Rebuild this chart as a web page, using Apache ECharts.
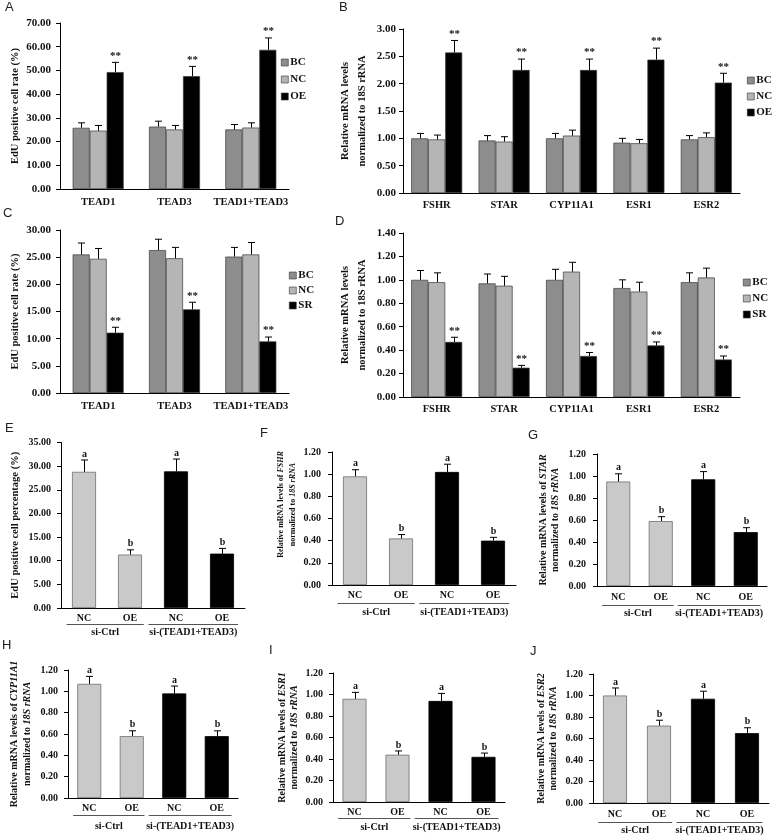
<!DOCTYPE html>
<html><head><meta charset="utf-8">
<script src="https://cdn.jsdelivr.net/npm/echarts@6/dist/echarts.min.js"></script>
<style>html,body{margin:0;padding:0;background:#fff}#c{width:773px;height:837px}</style>
</head><body><div id="c"></div>
<script>
// ---------- data ----------
const teads = ['TEAD1', 'TEAD3', 'TEAD1+TEAD3'];
const genes = ['FSHR', 'STAR', 'CYP11A1', 'ESR1', 'ESR2'];
const groupCats = ['NC', 'OE', 'NC', 'OE'];
const groupNames = ['si-Ctrl', 'si-(TEAD1+TEAD3)'];
const abLetters = ['a', 'b', 'a', 'b'];

// Panel A (EdU, overexpression)
const aBC = [25.8, 26.3, 25.1], aBCerr = [2.1, 2.3, 2.1];
const aNC = [24.6, 25.1, 25.9], aNCerr = [2.2, 1.7, 2.0];
const aOE = [49.3, 47.6, 58.7], aOEerr = [4.1, 4.1, 5.0];
// Panel B (mRNA, overexpression)
const bBC = [1.00, 0.96, 1.00, 0.92, 0.98], bBCerr = [0.09, 0.09, 0.09, 0.08, 0.07];
const bNC = [0.98, 0.94, 1.05, 0.91, 1.02], bNCerr = [0.08, 0.09, 0.10, 0.07, 0.08];
const bOE = [2.57, 2.25, 2.25, 2.44, 2.02], bOEerr = [0.22, 0.20, 0.20, 0.21, 0.17];
// Panel C (EdU, knockdown)
const cBC = [25.5, 26.3, 25.1], cBCerr = [2.1, 2.0, 1.7];
const cNC = [24.7, 24.8, 25.5], cNCerr = [1.9, 2.0, 2.2];
const cSR = [11.1, 15.4, 9.5], cSRerr = [1.0, 1.3, 0.8];
// Panel D (mRNA, knockdown)
const dBC = [1.00, 0.97, 1.00, 0.93, 0.98], dBCerr = [0.08, 0.08, 0.09, 0.07, 0.08];
const dNC = [0.98, 0.95, 1.07, 0.90, 1.02], dNCerr = [0.08, 0.08, 0.08, 0.08, 0.08];
const dSR = [0.47, 0.25, 0.35, 0.44, 0.32], dSRerr = [0.04, 0.02, 0.03, 0.03, 0.03];
// Panels E-J
const eVals = [28.8, 11.3, 28.9, 11.5], eErr = [2.5, 1.0, 2.6, 1.1];
const fVals = [0.98, 0.42, 1.02, 0.40], fErr = [0.06, 0.035, 0.07, 0.03];
const gVals = [0.95, 0.59, 0.97, 0.49], gErr = [0.07, 0.04, 0.07, 0.04];
const hVals = [1.07, 0.58, 0.98, 0.58], hErr = [0.07, 0.05, 0.07, 0.05];
const iVals = [0.96, 0.44, 0.94, 0.42], iErr = [0.06, 0.035, 0.07, 0.035];
const jVals = [1.00, 0.72, 0.97, 0.65], jErr = [0.07, 0.05, 0.07, 0.05];

// ---------- styling ----------
const SERIF = 'Liberation Serif';
const TXT = '#111';
const C_BC = '#8d8d8d', C_NC = '#b5b5b5', C_BLK = '#000000', C_LIGHT = '#c9c9c9';

const grids = [], xAxes = [], yAxes = [], series = [], legends = [], titles = [];

function errRender(barW, capW, labels, offsets, fs) {
  return function (params, api) {
    const i = api.value(0), top = api.value(1), v = api.value(2);
    const off = offsets[params.dataIndex];
    const pT = api.coord([i, top]), pB = api.coord([i, v]);
    const x = Math.round(pT[0] + off * barW) + 0.5;
    const lab = labels[params.dataIndex];
    const ch = [
      {type: 'line', shape: {x1: x, y1: pB[1], x2: x, y2: pT[1]}, style: {stroke: '#000', lineWidth: 1}},
      {type: 'line', shape: {x1: x - capW / 2, y1: pT[1], x2: x + capW / 2, y2: pT[1]}, style: {stroke: '#000', lineWidth: 1}}
    ];
    if (lab) ch.push({type: 'text', style: {text: lab, x: x, y: pT[1] - 1, align: 'center', verticalAlign: 'bottom',
      fontFamily: SERIF, fontWeight: 'bold', fontSize: fs, fill: TXT}});
    return {type: 'group', children: ch};
  };
}

function baseAxes(gi, cfg, catFont, catMargin) {
  xAxes.push({type: 'category', gridIndex: gi, data: cfg.cats,
    axisLine: {lineStyle: {color: '#000', width: 1}},
    axisTick: {length: 4, lineStyle: {color: '#000'}},
    axisLabel: {fontFamily: SERIF, fontWeight: 'bold', fontSize: catFont, color: TXT, margin: catMargin, interval: 0}});
  yAxes.push({type: 'value', gridIndex: gi, min: 0, max: cfg.max, interval: cfg.interval,
    splitLine: {show: false},
    axisLine: {show: true, lineStyle: {color: '#000', width: 1}},
    axisTick: {show: true, length: 4, lineStyle: {color: '#000'}},
    axisLabel: {formatter: v => v.toFixed(2), fontFamily: SERIF, fontWeight: 'bold', fontSize: cfg.tickFont, color: TXT, margin: cfg.labelMargin},
    name: cfg.yName, nameLocation: 'middle', nameRotate: 90, nameGap: cfg.nameGap,
    nameTextStyle: cfg.nameStyle});
}

function addGrouped(cfg) {
  const gi = grids.length;
  grids.push({left: cfg.left, top: cfg.top, width: cfg.width, height: cfg.height});
  baseAxes(gi, cfg, 10.5, cfg.catMargin);
  const barW = 17;
  const errData = [], labels = [], offsets = [];
  cfg.series.forEach((s, k) => {
    series.push({type: 'bar', name: s.name, xAxisIndex: gi, yAxisIndex: gi, data: s.values,
      barWidth: barW, barGap: '0%', silent: true,
      itemStyle: {color: s.color, borderColor: '#3a3a3a', borderWidth: 0.7}});
    s.values.forEach((v, i) => {
      errData.push([i, v + s.errs[i], v]);
      labels.push(s.mark ? '**' : '');
      offsets.push(k - 1);
    });
  });
  series.push({type: 'custom', xAxisIndex: gi, yAxisIndex: gi, data: errData, encode: {x: 0, y: 1},
    renderItem: errRender(barW, 7, labels, offsets, 11), z: 5, silent: true, clip: false});
  legends.push({left: cfg.legLeft, top: cfg.legTop, orient: 'vertical', padding: 0,
    data: cfg.series.map(s => s.name), icon: 'rect', itemWidth: 7, itemHeight: 7, itemGap: cfg.legGap,
    selectedMode: false,
    itemStyle: {borderColor: '#333', borderWidth: 0.6},
    textStyle: {fontFamily: SERIF, fontWeight: 'bold', fontSize: 11, color: TXT, padding: [0, 0, 0, -3]}});
}

function addSingle(cfg) {
  const gi = grids.length;
  grids.push({left: cfg.left, top: cfg.top, width: cfg.width, height: cfg.height});
  cfg.cats = groupCats;
  baseAxes(gi, cfg, 10, cfg.catMargin);
  const data = cfg.values.map((v, i) => ({value: v, itemStyle: {
    color: i < 2 ? C_LIGHT : C_BLK, borderColor: i < 2 ? '#6e6e6e' : '#000', borderWidth: 0.8}}));
  series.push({type: 'bar', xAxisIndex: gi, yAxisIndex: gi, data: data, barWidth: 24, silent: true});
  const errData = cfg.values.map((v, i) => [i, v + cfg.errs[i], v]);
  series.push({type: 'custom', xAxisIndex: gi, yAxisIndex: gi, data: errData, encode: {x: 0, y: 1},
    renderItem: errRender(0, 7, abLetters, [0, 0, 0, 0], 10), z: 5, silent: true, clip: false});
  // group underline + labels
  const lineDy = cfg.lineDy, textDy = cfg.textDy;
  series.push({type: 'custom', xAxisIndex: gi, yAxisIndex: gi, data: [[0, 0, 1], [2, 0, 3]], encode: {x: 0, y: 1},
    silent: true, clip: false, z: 5,
    renderItem: function (params, api) {
      const a = api.value(0), b = api.value(2);
      const pa = api.coord([a, 0]), pb = api.coord([b, 0]);
      const w = api.size([1, 0])[0];
      const g = params.dataIndex;
      const x1 = g === 0 ? pa[0] - w / 2 + 0.12 * w : pa[0] - w / 2 - 0.1 * w;
      const x2 = g === 0 ? pb[0] + w / 2 - 0.2 * w : pb[0] + w / 2 - 0.15 * w;
      const y = Math.round(pa[1] + lineDy) + 0.5;
      return {type: 'group', children: [
        {type: 'line', shape: {x1: x1, y1: y, x2: x2, y2: y}, style: {stroke: '#555', lineWidth: 1}},
        {type: 'text', style: {text: groupNames[g], x: (x1 + x2) / 2, y: pa[1] + textDy, align: 'center', verticalAlign: 'middle',
          fontFamily: SERIF, fontWeight: 'bold', fontSize: 10, fill: TXT}}
      ]};
    }});
}

const edUStyle = {fontFamily: SERIF, fontWeight: 'bold', fontSize: 10.5, color: TXT};
const mrnaStyle = {fontFamily: SERIF, fontWeight: 'bold', fontSize: 10.5, color: TXT, lineHeight: 17};
function geneName(g) {
  return '{n|Relative mRNA levels of }{i|' + g + '}\n{n|normalized to }{i|18S rRNA}';
}
function geneStyle(fs, lh, shiftUp) {
  return {color: TXT, lineHeight: lh, padding: [0, 0, 0, 2 * shiftUp], rich: {
    n: {fontFamily: SERIF, fontWeight: 'bold', fontSize: fs, color: TXT, lineHeight: lh},
    i: {fontFamily: SERIF, fontWeight: 'bold', fontStyle: 'italic', fontSize: fs, color: TXT, lineHeight: lh}}};
}

// A
addGrouped({left: 60, top: 23, width: 229, height: 166, cats: teads, max: 70, interval: 10, tickFont: 11, labelMargin: 9,
  catMargin: 7.5, yName: 'EdU positive cell rate (%)', nameGap: 39, nameStyle: edUStyle,
  legLeft: 281, legTop: 57, legGap: 6,
  series: [{name: 'BC', values: aBC, errs: aBCerr, color: C_BC}, {name: 'NC', values: aNC, errs: aNCerr, color: C_NC},
    {name: 'OE', values: aOE, errs: aOEerr, color: C_BLK, mark: true}]});
// B
addGrouped({left: 403, top: 29, width: 337, height: 164, cats: genes, max: 3, interval: 0.5, tickFont: 11, labelMargin: 7,
  catMargin: 6.5, yName: 'Relative mRNA levels\nnormalized to 18S rRNA', nameGap: 32, nameStyle: mrnaStyle,
  legLeft: 747, legTop: 75, legGap: 5,
  series: [{name: 'BC', values: bBC, errs: bBCerr, color: C_BC}, {name: 'NC', values: bNC, errs: bNCerr, color: C_NC},
    {name: 'OE', values: bOE, errs: bOEerr, color: C_BLK, mark: true}]});
// C
addGrouped({left: 60, top: 230, width: 229, height: 163, cats: teads, max: 30, interval: 5, tickFont: 11, labelMargin: 9,
  catMargin: 7.5, yName: 'EdU positive cell rate (%)', nameGap: 39, nameStyle: edUStyle,
  legLeft: 289, legTop: 270, legGap: 4,
  series: [{name: 'BC', values: cBC, errs: cBCerr, color: C_BC}, {name: 'NC', values: cNC, errs: cNCerr, color: C_NC},
    {name: 'SR', values: cSR, errs: cSRerr, color: C_BLK, mark: true}]});
// D
addGrouped({left: 403, top: 233, width: 337, height: 164, cats: genes, max: 1.4, interval: 0.2, tickFont: 11, labelMargin: 7,
  catMargin: 6.5, yName: 'Relative mRNA levels\nnormalized to 18S rRNA', nameGap: 32, nameStyle: mrnaStyle,
  legLeft: 743, legTop: 277, legGap: 5,
  series: [{name: 'BC', values: dBC, errs: dBCerr, color: C_BC}, {name: 'NC', values: dNC, errs: dNCerr, color: C_NC},
    {name: 'SR', values: dSR, errs: dSRerr, color: C_BLK, mark: true}]});
// E
addSingle({left: 61, top: 442.5, width: 184, height: 165.5, max: 35, interval: 5, tickFont: 10, labelMargin: 10,
  catMargin: 5, yName: 'EdU positive cell percentage (%)', nameGap: 40, nameStyle: edUStyle,
  values: eVals, errs: eErr, lineDy: 16, textDy: 24});
// F
addSingle({left: 332, top: 452, width: 184, height: 133, max: 1.2, interval: 0.2, tickFont: 10, labelMargin: 11,
  catMargin: 5.5, yName: geneName('FSHR'), nameGap: 33, nameStyle: geneStyle(8, 12, 14), values: fVals, errs: fErr, lineDy: 18, textDy: 27});
// G
addSingle({left: 597, top: 454, width: 170, height: 132, max: 1.2, interval: 0.2, tickFont: 10, labelMargin: 11,
  catMargin: 6, yName: geneName('STAR'), nameGap: 35, nameStyle: geneStyle(10, 12.5, 0), values: gVals, errs: gErr, lineDy: 19, textDy: 27});
// H
addSingle({left: 68, top: 670, width: 170, height: 128, max: 1.2, interval: 0.2, tickFont: 10, labelMargin: 10,
  catMargin: 5.5, yName: geneName('CYP11A1'), nameGap: 34, nameStyle: geneStyle(10, 13, 0), values: hVals, errs: hErr, lineDy: 17, textDy: 28});
// I
addSingle({left: 333, top: 673, width: 172, height: 129, max: 1.2, interval: 0.2, tickFont: 10, labelMargin: 10,
  catMargin: 5.5, yName: geneName('ESR1'), nameGap: 33, nameStyle: geneStyle(10, 12, 0), values: iVals, errs: iErr, lineDy: 16, textDy: 25});
// J
addSingle({left: 593, top: 674, width: 176, height: 129, max: 1.2, interval: 0.2, tickFont: 10, labelMargin: 10,
  catMargin: 6, yName: geneName('ESR2'), nameGap: 33, nameStyle: geneStyle(10, 12.5, 0), values: jVals, errs: jErr, lineDy: 19, textDy: 27});

// panel letters
const letters = [['A', 5, 1], ['B', 339, 1], ['C', 3, 207], ['D', 335, 215], ['E', 5, 422],
  ['F', 260, 427], ['G', 528, 429], ['H', 2, 639], ['I', 269, 644], ['J', 530, 645]];
letters.forEach(l => titles.push({text: l[0], left: l[1], top: l[2], padding: 0,
  textStyle: {fontFamily: 'Liberation Sans', fontWeight: 'normal', fontSize: 13, color: '#222'}}));

const chart = echarts.init(document.getElementById('c'), null, {renderer: 'canvas'});
chart.setOption({animation: false, backgroundColor: '#fff', title: titles, grid: grids, xAxis: xAxes, yAxis: yAxes,
  legend: legends, series: series});
</script></body></html>
